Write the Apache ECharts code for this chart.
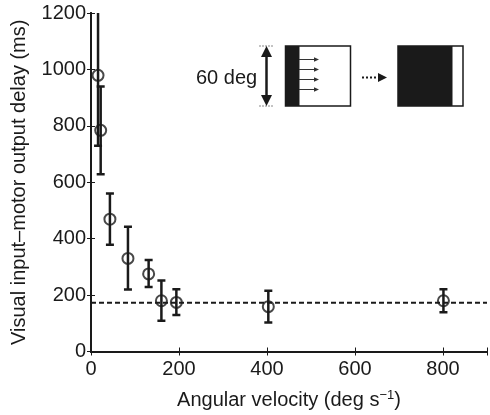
<!DOCTYPE html>
<html><head><meta charset="utf-8">
<script src="https://cdn.jsdelivr.net/npm/echarts@6/dist/echarts.min.js"></script>
<style>html,body{margin:0;padding:0;background:#fff}#c{width:490px;height:415px}</style>
</head><body><div id="c"></div>
<script>
const velocity = [16, 22, 43, 84, 131, 160, 194, 403, 801];
const delay    = [979, 784, 469, 330, 275, 180, 174, 159, 180];
const errLow   = [729, 628, 378, 220, 229, 109, 129, 103, 139];
const errHigh  = [1230, 939, 560, 442, 324, 252, 221, 215, 221];
const baselineDelay = 173;
const xTicks = [0, 200, 400, 600, 800];
const yTicks = [0, 200, 400, 600, 800, 1000, 1200];

const chart = echarts.init(document.getElementById('c'), null, {renderer: 'canvas'});
const FONT = 'Liberation Sans, Arial, sans-serif';
const INK = '#1a1a1a';

const axisCommon = {
  axisLine: {show: true, lineStyle: {color: INK, width: 2}},
  axisTick: {show: true, inside: true, length: 4, lineStyle: {color: INK, width: 1}},
  splitLine: {show: false}
};

const option = {
  animation: false,
  grid: {left: 91, top: 13, width: 401, height: 339.5, containLabel: false},
  xAxis: [
    Object.assign({
      type: 'value', min: 0, max: 900, interval: 200, position: 'bottom',
      axisLabel: {color: INK, fontFamily: FONT, fontSize: 20, margin: 8,
        formatter: v => xTicks.includes(v) ? String(v) : ''},
      name: 'Angular velocity (deg s{sup|−1})',
      nameLocation: 'middle', nameGap: 37,
      nameTextStyle: {color: INK, fontFamily: FONT, fontSize: 20,
        rich: {sup: {fontSize: 13, fontFamily: FONT, color: INK, padding: [0, 0, 10, 0]}}}
    }, axisCommon),
    Object.assign({
      type: 'value', min: 0, max: 900, interval: 200, position: 'top',
      axisLabel: {show: false}
    }, axisCommon)
  ],
  yAxis: [
    Object.assign({
      type: 'value', min: 0, max: 1200, interval: 200, position: 'left',
      axisLabel: {color: INK, fontFamily: FONT, fontSize: 20, margin: 5,
        formatter: v => yTicks.includes(v) ? String(v) : ''},
      name: 'Visual input–motor output delay (ms)',
      nameLocation: 'middle', nameGap: 62,
      nameTextStyle: {color: INK, fontFamily: FONT, fontSize: 20}
    }, axisCommon),
    Object.assign({
      type: 'value', min: 0, max: 1200, interval: 200, position: 'right',
      axisLabel: {show: false}
    }, axisCommon)
  ],
  series: [
    {
      type: 'line', xAxisIndex: 0, yAxisIndex: 0,
      data: [[0, baselineDelay], [900, baselineDelay]],
      symbol: 'none', silent: true,
      lineStyle: {color: INK, width: 2, type: [5, 3]}
    },
    {
      type: 'custom', xAxisIndex: 0, yAxisIndex: 0, clip: true,
      data: velocity.map((v, i) => [v, errLow[i], errHigh[i]]),
      renderItem: function (params, api) {
        const x = api.value(0);
        const lo = api.coord([x, api.value(1)]);
        const hi = api.coord([x, api.value(2)]);
        const cap = 4;
        const st = {stroke: INK, lineWidth: 2.5};
        return {
          type: 'group',
          children: [
            {type: 'line', shape: {x1: lo[0], y1: lo[1], x2: hi[0], y2: hi[1]}, style: st},
            {type: 'line', shape: {x1: lo[0] - cap, y1: lo[1], x2: lo[0] + cap, y2: lo[1]}, style: st},
            {type: 'line', shape: {x1: hi[0] - cap, y1: hi[1], x2: hi[0] + cap, y2: hi[1]}, style: st}
          ]
        };
      },
      z: 3
    },
    {
      type: 'scatter', xAxisIndex: 0, yAxisIndex: 0,
      data: velocity.map((v, i) => [v, delay[i]]),
      symbol: 'circle', symbolSize: 11,
      itemStyle: {color: 'rgba(255,255,255,0)', borderColor: INK, borderWidth: 2},
      z: 4
    }
  ],
  graphic: [
    {type: 'text', left: 196, top: 68, style: {text: '60 deg', fontFamily: FONT, fontSize: 20, fill: INK}},
    {type: 'line', shape: {x1: 259, y1: 46, x2: 274, y2: 46}, style: {stroke: '#888', lineWidth: 1, lineDash: [2, 1]}},
    {type: 'line', shape: {x1: 259, y1: 106, x2: 274, y2: 106}, style: {stroke: '#888', lineWidth: 1, lineDash: [2, 1]}},
    {type: 'line', shape: {x1: 266.5, y1: 54, x2: 266.5, y2: 98}, style: {stroke: INK, lineWidth: 2.5}},
    {type: 'polygon', shape: {points: [[266.5, 46], [261, 57], [272, 57]]}, style: {fill: INK}},
    {type: 'polygon', shape: {points: [[266.5, 106], [261, 95], [272, 95]]}, style: {fill: INK}},
    {type: 'rect', shape: {x: 285.5, y: 46, width: 65, height: 60}, style: {fill: '#fff', stroke: INK, lineWidth: 1.5}},
    {type: 'rect', shape: {x: 285.5, y: 46, width: 14, height: 60}, style: {fill: INK}},
    ...[59.5, 69.5, 79.5, 89.5].flatMap(y => [
      {type: 'line', shape: {x1: 299, y1: y, x2: 315, y2: y}, style: {stroke: '#333', lineWidth: 1}},
      {type: 'polygon', shape: {points: [[319, y], [314, y - 2.2], [314, y + 2.2]]}, style: {fill: '#333'}}
    ]),
    {type: 'line', shape: {x1: 362, y1: 77.5, x2: 379, y2: 77.5}, style: {stroke: INK, lineWidth: 2, lineDash: [2, 2]}},
    {type: 'polygon', shape: {points: [[387, 77.5], [378, 73], [378, 82]]}, style: {fill: INK}},
    {type: 'rect', shape: {x: 398, y: 46, width: 65, height: 60}, style: {fill: '#fff', stroke: INK, lineWidth: 1.5}},
    {type: 'rect', shape: {x: 398, y: 46, width: 54.5, height: 60}, style: {fill: INK}}
  ]
};
chart.setOption(option);
</script></body></html>
